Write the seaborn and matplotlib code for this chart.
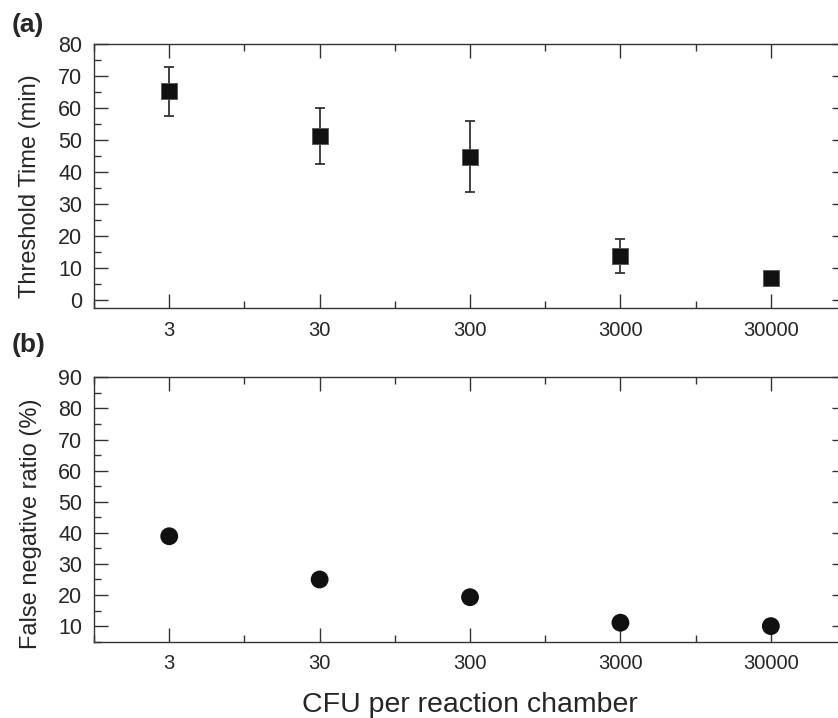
# threshold time and false negative ratio vs CFU per chamber
import numpy as np
import pandas as pd
import matplotlib
matplotlib.use("Agg")
import matplotlib.pyplot as plt
import seaborn as sns
from matplotlib.ticker import MultipleLocator

# data
cfu_labels = ["3", "30", "300", "3000", "30000"]
threshold_time = [65.2, 51.3, 44.7, 13.8, 6.8]
threshold_err = [7.6, 8.7, 11.1, 5.3, np.nan]
false_neg = [38.9, 25.0, 19.3, 11.1, 10.0]

df_a = pd.DataFrame({"cfu": cfu_labels, "time": threshold_time, "err": threshold_err})
df_b = pd.DataFrame({"cfu": cfu_labels, "fnr": false_neg})

sns.set_theme(style="ticks")
plt.rcParams["font.family"] = ["Liberation Sans", "DejaVu Sans"]

fig = plt.figure(figsize=(8.38, 7.18), dpi=100)
ax1 = fig.add_axes([0.1122, 0.571, 0.8974, 0.3677])
ax2 = fig.add_axes([0.1122, 0.1063, 0.8974, 0.3682])

pos = np.arange(len(cfu_labels))

# (a) threshold time with error bars
ax1.errorbar(pos, df_a["time"], yerr=df_a["err"], fmt="none", ecolor="#333333",
             elinewidth=1.3, capsize=3.6, capthick=1.3, zorder=2)
sns.scatterplot(data=df_a, x="cfu", y="time", marker="s", s=125, color="#111111",
                edgecolor="#555555", linewidth=0.6, ax=ax1, zorder=3)
ax1.set_ylim(-2.5, 80)
ax1.yaxis.set_major_locator(MultipleLocator(10))
ax1.yaxis.set_minor_locator(MultipleLocator(5))
ax1.set_ylabel("Threshold Time (min)", fontsize=17)
ax1.yaxis.set_label_coords(-0.071, 0.462)

# (b) false negative ratio
sns.scatterplot(data=df_b, x="cfu", y="fnr", marker="o", s=165, color="#111111",
                edgecolor="none", ax=ax2, zorder=3)
ax2.set_ylim(5, 90)
ax2.yaxis.set_major_locator(MultipleLocator(10))
ax2.yaxis.set_minor_locator(MultipleLocator(5))
ax2.set_ylabel("False negative ratio (%)", fontsize=17)
ax2.yaxis.set_label_coords(-0.069, 0.445)

for ax in (ax1, ax2):
    ax.set_xlim(-0.5, len(cfu_labels) - 0.5)
    ax.set_xticks(pos)
    ax.set_xticklabels(cfu_labels)
    ax.xaxis.set_minor_locator(MultipleLocator(0.5))
    ax.set_xlabel("")
    ax.tick_params(which="both", direction="in", top=True, right=True,
                   color="#333333", width=1.0)
    ax.tick_params(which="major", length=10)
    ax.tick_params(which="minor", length=5)
    ax.tick_params(axis="x", which="major", labelsize=14.5, pad=9)
    ax.tick_params(axis="y", which="major", labelsize=15.5, pad=8.5)
    for sp in ax.spines.values():
        sp.set_color("#333333")
        sp.set_linewidth(1.0)

ax2.set_xlabel("CFU per reaction chamber", fontsize=20.5, labelpad=13.5)

fig.text(0.014, 0.965, "(a)", fontsize=19, fontweight="bold", va="center", ha="left")
fig.text(0.014, 0.519, "(b)", fontsize=19, fontweight="bold", va="center", ha="left")

fig.savefig("out.png", dpi=100)
